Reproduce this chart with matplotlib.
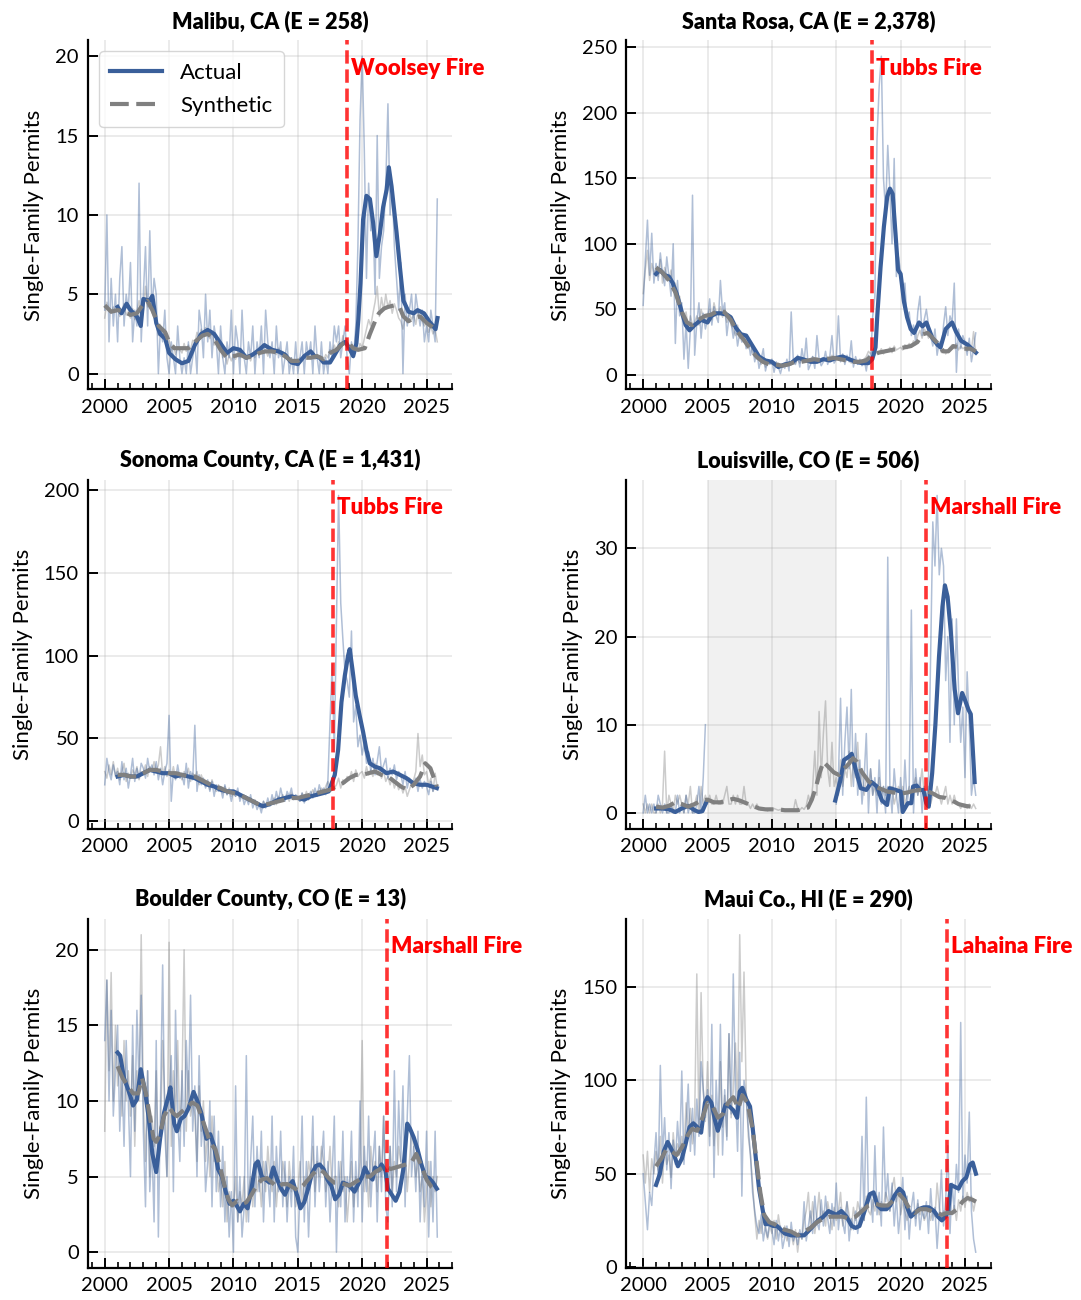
#!/usr/bin/env python3
"""Actual vs synthetic single-family permits around six wildfires (3x2 grid)."""

import numpy as np
import matplotlib

matplotlib.use("Agg")
import matplotlib.pyplot as plt
from matplotlib.ticker import MultipleLocator

plt.rcParams["font.family"] = ["Lato", "DejaVu Sans"]

# raw series: six readings per year starting Jan 2000
# smoothed series: (year, value) knots

malibu_actual_raw = [
    4, 10, 2, 6, 3, 5, 2, 6, 8, 3, 5, 4, 7, 2, 4, 3, 12, 2, 5, 8, 3, 9, 4, 6,
    5, 0, 3, 2, 4, 1, 0, 2, 1, 0, 3, 1, 0, 1, 0, 2, 0, 1, 2, 0, 4, 3, 1, 5,
    2, 4, 1, 3, 2, 0, 3, 1, 0, 2, 1, 4, 0, 3, 2, 0, 4, 1, 0, 2, 1, 3, 0, 2,
    1, 3, 0, 4, 2, 1, 2, 0, 3, 1, 2, 0, 1, 2, 0, 1, 0, 2, 0, 1, 2, 0, 2, 1,
    2, 0, 3, 1, 0, 2, 0, 1, 0, 2, 1, 3, 2, 3, 1, 2, 3, 1, 0, 2, 1, 3, 8, 16,
    20, 14, 6, 12, 9, 10, 5, 15, 6, 8, 9, 12, 17, 10, 12, 8, 6, 4, 7, 0, 5, 3, 4, 5,
    3, 5, 4, 3, 4, 2, 3, 2, 4, 3, 2, 11,
]
malibu_synth_raw = [
    3.5, 4.5, 4, 3.8, 4.2, 3.9, 4.3, 3.6, 4.0, 4.4, 3.7, 3.9, 3.5, 4.1, 3.4, 3.9, 4.6, 3.6,
    4.0, 5.5, 4.2, 4.8, 3.9, 3.5, 3.2, 2.4, 3.0, 2.2, 2.8, 1.9, 2.1, 1.4, 1.8, 1.2, 1.7, 1.5,
    1.3, 1.9, 1.4, 1.8, 1.5, 2.1, 1.9, 2.6, 2.2, 2.8, 2.4, 2.9, 2.6, 2.2, 2.7, 1.8, 2.3, 1.6,
    1.9, 1.0, 1.4, 0.6, 1.2, 0.8, 1.2, 0.9, 1.4, 1.0, 1.3, 1.1, 0.9, 1.2, 0.8, 1.3, 1.0, 1.4,
    1.2, 1.6, 1.3, 1.5, 1.1, 1.7, 1.3, 1.5, 1.2, 1.6, 1.1, 1.4, 1.0, 1.2, 0.7, 1.0, 0.6, 0.9,
    0.7, 1.0, 0.8, 1.2, 0.9, 1.1, 1.0, 1.3, 0.9, 1.2, 1.0, 1.1, 0.8, 1.2, 1.0, 1.5, 1.3, 1.8,
    1.4, 2.0, 1.6, 2.4, 1.8, 2.2, 1.5, 1.8, 1.3, 1.7, 1.4, 1.9, 1.6, 2.2, 2.8, 3.4, 3.0, 3.8,
    4.5, 5.5, 3.6, 4.8, 4.0, 5.0, 4.2, 4.6, 3.8, 4.4, 4.0, 3.5, 3.3, 2.8, 3.6, 3.2, 3.8, 3.4,
    3.7, 3.1, 3.9, 3.5, 3.3, 3.0, 3.2, 2.6, 3.0, 2.5, 2.8, 2.0,
]
malibu_actual_trend = [
    (2001.0, 4.2), (2001.3, 3.8), (2001.7, 4.4), (2002.0, 4.0), (2002.5, 3.6), (2002.8, 3.0),
    (2003.0, 4.7), (2003.5, 4.6), (2003.7, 4.9), (2004.0, 3.2), (2004.3, 2.5), (2004.7, 2.2),
    (2005.0, 1.3), (2005.5, 0.9), (2006.0, 0.65), (2006.5, 0.8), (2007.0, 1.8), (2007.5, 2.5),
    (2008.0, 2.75), (2008.5, 2.5), (2009.0, 1.9), (2009.5, 1.3), (2010.0, 1.6), (2010.5, 1.5),
    (2011.0, 1.0), (2011.5, 1.2), (2012.0, 1.5), (2012.4, 1.8), (2013.0, 1.5), (2013.5, 1.4),
    (2014.0, 1.2), (2014.5, 0.7), (2015.0, 0.6), (2015.5, 1.1), (2016.0, 1.4), (2016.3, 1.1),
    (2016.7, 1.0), (2017.0, 0.7), (2017.5, 0.7), (2017.8, 1.1), (2018.3, 1.8), (2018.7, 2.0),
    (2019.0, 1.6), (2019.3, 1.1), (2019.55, 1.9), (2019.7, 3.4), (2019.87, 5.7), (2020.07, 9.7),
    (2020.33, 11.2), (2020.6, 11.0), (2020.85, 9.5), (2021.1, 7.4), (2021.37, 8.8),
    (2021.63, 10.5), (2021.9, 11.6), (2022.07, 13.0), (2022.28, 11.8), (2022.67, 8.9),
    (2022.92, 6.8), (2023.2, 4.6), (2023.6, 3.9), (2024.0, 3.8), (2024.3, 4.0), (2024.8, 3.8),
    (2025.2, 3.3), (2025.7, 2.8), (2025.85, 3.5),
]
malibu_synth_trend = [
    (2000.0, 4.3), (2000.5, 3.9), (2001.0, 4.0), (2001.5, 3.9), (2002.0, 3.7), (2002.5, 3.8),
    (2003.0, 4.4), (2003.3, 4.6), (2003.7, 4.0), (2004.2, 3.0), (2004.7, 2.6), (2005.0, 2.0),
    (2005.4, 1.6), (2006.0, 1.6), (2006.5, 1.6), (2007.0, 2.0), (2007.6, 2.4), (2008.0, 2.5),
    (2008.5, 2.2), (2009.0, 1.5), (2009.5, 1.0), (2010.0, 1.1), (2010.5, 1.2), (2011.0, 1.0),
    (2011.5, 1.1), (2012.0, 1.3), (2012.5, 1.4), (2013.0, 1.4), (2013.5, 1.3), (2014.0, 1.1),
    (2014.5, 0.8), (2015.0, 0.8), (2015.5, 1.0), (2016.0, 1.0), (2016.5, 1.1), (2017.0, 0.9),
    (2017.5, 1.3), (2018.0, 1.5), (2018.5, 1.9), (2018.9, 2.0), (2019.3, 1.6), (2019.7, 1.5),
    (2020.2, 1.6), (2020.6, 2.5), (2021.0, 3.3), (2021.3, 3.8), (2021.7, 4.1), (2022.0, 4.2),
    (2022.5, 4.3), (2022.9, 4.2), (2023.2, 3.6), (2023.6, 3.3), (2024.0, 3.5), (2024.5, 3.6),
    (2025.0, 3.2), (2025.5, 2.9), (2025.85, 2.7),
]

santa_rosa_actual_raw = [
    53, 88, 118, 76, 108, 70, 85, 72, 93, 78, 68, 90, 75, 60, 100, 24, 72, 45,
    55, 12, 40, 5, 35, 137, 15, 40, 55, 28, 47, 35, 42, 58, 38, 52, 45, 40,
    72, 48, 55, 30, 44, 40, 28, 38, 22, 32, 25, 30, 20, 28, 15, 22, 10, 18,
    5, 12, 20, 3, 10, 8, 12, 2, 10, 6, 1, 8, 5, 12, 3, 48, 10, 8,
    15, 6, 20, 10, 28, 4, 8, 14, 5, 30, 12, 7, 10, 18, 8, 14, 30, 9,
    12, 45, 10, 16, 8, 15, 10, 26, 6, 14, 8, 12, 7, 12, 3, 15, 10, 45,
    60, 180, 220, 243, 150, 125, 175, 140, 100, 165, 75, 90, 78, 55, 70, 42, 48, 30,
    38, 25, 48, 60, 30, 42, 50, 38, 30, 22, 35, 15, 25, 18, 38, 52, 30, 45,
    40, 70, 2, 35, 20, 30, 25, 15, 28, 10, 20, 32,
]
santa_rosa_synth_raw = [
    62, 80, 95, 72, 85, 78, 80, 75, 88, 70, 82, 76, 72, 80, 65, 70, 55, 60,
    50, 42, 48, 35, 45, 38, 40, 45, 38, 50, 44, 42, 45, 50, 42, 55, 48, 46,
    52, 44, 50, 40, 45, 38, 35, 30, 38, 28, 32, 25, 24, 20, 26, 16, 18, 12,
    14, 8, 12, 6, 10, 9, 8, 10, 6, 9, 7, 8, 9, 7, 10, 8, 11, 9,
    12, 9, 13, 10, 12, 11, 10, 14, 11, 13, 12, 10, 13, 11, 14, 12, 15, 13,
    12, 14, 11, 13, 10, 12, 11, 9, 12, 10, 11, 9, 10, 12, 14, 18, 16, 19,
    15, 18, 17, 20, 16, 19, 18, 21, 17, 22, 19, 20, 21, 19, 23, 20, 24, 22,
    26, 23, 30, 34, 28, 35, 33, 28, 31, 26, 27, 22, 22, 17, 20, 16, 19, 21,
    23, 20, 24, 19, 22, 20, 21, 18, 22, 19, 33, 17,
]
santa_rosa_actual_trend = [
    (2001.0, 77), (2001.3, 80), (2001.7, 76), (2002.0, 75), (2002.3, 70), (2002.6, 62),
    (2003.0, 48), (2003.3, 38), (2003.6, 34), (2004.0, 38), (2004.5, 42), (2005.0, 40),
    (2005.3, 45), (2005.7, 47), (2006.0, 47), (2006.5, 46), (2006.8, 44), (2007.2, 36),
    (2007.6, 31), (2008.0, 30), (2008.5, 22), (2009.0, 14), (2009.5, 11), (2010.0, 10),
    (2010.5, 6), (2011.0, 8), (2011.5, 9), (2012.0, 13), (2012.4, 12), (2013.0, 10),
    (2013.5, 10), (2014.0, 12), (2014.5, 11), (2015.0, 13), (2015.5, 14), (2016.0, 12),
    (2016.5, 10), (2017.0, 9), (2017.5, 9), (2017.8, 12), (2018.05, 21), (2018.18, 44),
    (2018.44, 82), (2018.7, 113), (2018.96, 136), (2019.17, 142), (2019.38, 138),
    (2019.6, 108), (2019.8, 80), (2020.0, 77), (2020.26, 56), (2020.5, 44), (2020.78, 35),
    (2021.04, 32), (2021.43, 40), (2021.7, 37), (2022.0, 40), (2022.47, 28), (2022.86, 23),
    (2023.1, 21), (2023.5, 35), (2024.0, 40), (2024.3, 33), (2024.7, 26), (2025.2, 23),
    (2025.85, 17),
]
santa_rosa_synth_trend = [
    (2001.0, 82), (2001.5, 78), (2002.0, 72), (2002.5, 63), (2003.0, 48), (2003.4, 40),
    (2003.8, 38), (2004.3, 42), (2004.8, 45), (2005.3, 46), (2005.8, 49), (2006.3, 48),
    (2006.8, 42), (2007.3, 33), (2007.8, 27), (2008.3, 20), (2008.8, 14), (2009.3, 10),
    (2009.8, 8), (2010.3, 8), (2010.8, 7), (2011.3, 8), (2011.8, 10), (2012.3, 10),
    (2012.8, 11), (2013.3, 12), (2013.8, 11), (2014.3, 12), (2014.8, 13), (2015.3, 12),
    (2015.8, 11), (2016.3, 10), (2016.8, 10), (2017.3, 11), (2017.8, 15), (2018.3, 17),
    (2018.8, 18), (2019.3, 19), (2019.8, 20), (2020.3, 21), (2020.8, 22), (2021.3, 25),
    (2021.7, 31), (2022.1, 32), (2022.5, 28), (2022.9, 24), (2023.3, 18), (2023.7, 18),
    (2024.1, 22), (2024.5, 21), (2024.9, 20), (2025.4, 20), (2025.85, 18),
]

sonoma_actual_raw = [
    22, 38, 30, 25, 34, 28, 30, 22, 36, 25, 32, 20, 28, 38, 24, 32, 26, 35,
    32, 26, 38, 30, 34, 28, 36, 25, 32, 22, 30, 35, 64, 12, 30, 25, 34, 26,
    28, 22, 35, 20, 30, 25, 58, 18, 28, 22, 26, 20, 25, 18, 24, 15, 22, 18,
    20, 14, 22, 16, 18, 12, 18, 15, 20, 12, 16, 10, 14, 10, 16, 8, 12, 7,
    10, 5, 12, 8, 14, 9, 16, 10, 18, 12, 20, 14, 12, 18, 15, 20, 13, 16,
    14, 12, 17, 11, 16, 13, 18, 14, 20, 15, 22, 17, 20, 16, 24, 60, 95, 42,
    120, 197, 132, 110, 90, 85, 75, 115, 60, 70, 45, 52, 40, 48, 35, 42, 30, 38,
    28, 36, 45, 30, 34, 38, 26, 32, 28, 34, 25, 30, 28, 22, 30, 20, 26, 24,
    22, 26, 18, 25, 20, 24, 21, 16, 24, 18, 22, 19,
]
sonoma_synth_raw = [
    30, 26, 34, 28, 36, 27, 32, 25, 30, 35, 24, 29, 26, 31, 28, 33, 25, 30,
    29, 34, 27, 33, 30, 36, 30, 34, 45, 28, 33, 27, 31, 27, 33, 26, 30, 28,
    25, 30, 27, 32, 24, 29, 26, 30, 22, 28, 24, 21, 23, 19, 25, 21, 18, 22,
    19, 17, 21, 16, 20, 15, 17, 15, 18, 14, 16, 13, 15, 12, 14, 11, 13, 10,
    10, 8, 12, 9, 11, 10, 12, 14, 10, 15, 12, 16, 13, 16, 12, 17, 14, 15,
    15, 12, 17, 14, 18, 13, 16, 19, 15, 18, 17, 20, 18, 21, 24, 19, 22, 20,
    22, 26, 20, 25, 23, 27, 25, 30, 24, 31, 27, 29, 30, 26, 33, 28, 31, 27,
    35, 28, 32, 26, 30, 24, 27, 22, 26, 20, 24, 19, 22, 17, 21, 15, 19, 23,
    25, 30, 53, 33, 40, 28, 30, 22, 26, 18, 29, 20,
]
sonoma_actual_trend = [
    (2001.0, 27), (2001.5, 28), (2002.0, 27), (2002.5, 27), (2003.0, 29), (2003.5, 31),
    (2004.0, 30), (2004.5, 29), (2005.0, 29), (2005.5, 27), (2006.0, 28), (2006.5, 27),
    (2007.0, 26), (2007.5, 24), (2008.0, 22), (2008.5, 21), (2009.0, 19), (2009.5, 18),
    (2010.0, 18), (2010.5, 16), (2011.0, 14), (2011.5, 12), (2012.0, 10), (2012.3, 9),
    (2012.7, 10), (2013.0, 11), (2013.5, 13), (2014.0, 14), (2014.5, 15), (2015.0, 14),
    (2015.5, 13), (2016.0, 15), (2016.5, 16), (2017.0, 17), (2017.4, 18), (2017.87, 28),
    (2018.13, 43), (2018.39, 72), (2018.65, 88), (2018.9, 100), (2019.03, 104), (2019.24, 92),
    (2019.5, 76), (2019.8, 64), (2020.07, 54), (2020.33, 43), (2020.59, 35), (2020.98, 33),
    (2021.37, 32), (2021.89, 29), (2022.4, 30), (2022.93, 28), (2023.44, 26), (2023.96, 23),
    (2024.48, 22), (2025.0, 22), (2025.8, 20),
]
sonoma_synth_trend = [
    (2001.0, 28), (2001.5, 28), (2002.0, 27), (2002.5, 27), (2003.0, 29), (2003.5, 31),
    (2004.0, 31), (2004.5, 30), (2005.0, 29), (2005.5, 29), (2006.0, 28), (2006.5, 27),
    (2007.0, 27), (2007.5, 25), (2008.0, 23), (2008.5, 21), (2009.0, 20), (2009.5, 18),
    (2010.0, 17), (2010.5, 16), (2011.0, 14), (2011.5, 12), (2012.0, 10), (2012.5, 10),
    (2013.0, 11), (2013.5, 12), (2014.0, 13), (2014.5, 14), (2015.0, 14), (2015.5, 15),
    (2016.0, 16), (2016.5, 17), (2017.0, 18), (2017.5, 19), (2018.0, 21), (2018.5, 23),
    (2019.0, 26), (2019.5, 28), (2020.0, 28), (2020.5, 29), (2021.0, 30), (2021.5, 28),
    (2022.0, 27), (2022.5, 24), (2023.0, 21), (2023.5, 19), (2024.0, 22), (2024.5, 27),
    (2024.9, 35), (2025.3, 32), (2025.8, 21),
]

louisville_actual_raw = (
    [0, 2, 0, 1, 0, 1, 0, 2, 1, 0, 1, 0, 0, 1, 0, 0, 2, 0,
     1, 0, 2, 0, 1, 0, 0, 1, 3, 0, 4, 10]
    + [np.nan] * 60
    + [1, 4, 13, 2, 8, 12, 5, 14, 3, 9, 2, 6, 1, 4, 9, 0, 5, 2,
       4, 0, 6, 1, 3, 0, 29, 3, 0, 5, 2, 0, 4, 0, 6, 1, 3, 23,
       0, 5, 2, 4, 0, 3, 1, 4, 18, 33, 28, 36, 27, 30, 28, 15, 20, 8,
       22, 10, 22, 14, 8, 12, 4, 16, 10, 2, 4, 2]
)
louisville_synth_raw = [
    1, 0, 1, 0, 1, 0, 0, 1, 0, 1, 7, 0, 2, 1, 0, 2, 1, 2,
    1, 0, 2, 1, 3, 0, 1, 2, 0, 3, 1, 2, 1, 2, 1, 1, 2, 1,
    1, 1, 2, 3, 1, 1, 2, 1, 2, 1, 1, 3, 1, 1, 0.5, 1, 0.5, 1,
    0.5, 0.3, 0.5, 0.4, 0.2, 0.5, 0.3, 0.5, 0.4, 0.3, 0.4, 0.2, 0.3, 0.2, 0.4, 0.3, 0.2, 1.5,
    0.5, 0.3, 0.6, 0.4, 0.8, 2, 1, 3, 7, 2, 11.5, 4, 9, 12.7, 5, 3, 8, 3,
    4, 2, 6, 3, 5, 4, 7, 3, 6, 4, 8, 3, 5, 2, 4, 3, 5, 2,
    3, 2, 4, 2, 3, 2, 3, 2, 3, 1, 2, 3, 2, 3, 1, 2, 3, 2,
    3, 4, 2, 3, 5, 2, 2, 3, 1, 2, 2, 3, 2, 1, 2, 3, 1, 2,
    1, 2, 1, 1, 0.5, 1, 1, 0.5, 1, 0.5, 1, 0.5,
]
louisville_actual_trend = [
    (2001.0, 0.5), (2001.5, 0.5), (2002.0, 0.4), (2002.5, 0.1), (2003.0, 0.5), (2003.5, 0.8),
    (2004.0, 0.3), (2004.3, 0.1), (2004.6, 0.2), (2004.9, 1.2), (2010.0, np.nan),
    (2014.92, 1.4), (2015.32, 3.7), (2015.6, 6.0), (2016.0, 6.4), (2016.2, 6.7), (2016.53, 4.8),
    (2016.9, 2.8), (2017.34, 2.6), (2017.74, 3.5), (2018.15, 3.0), (2018.55, 1.4),
    (2018.95, 0.9), (2019.14, 2.8), (2019.62, 2.6), (2020.03, 2.4), (2020.16, 0.1),
    (2020.56, 1.1), (2020.83, 1.1), (2020.97, 3.0), (2021.24, 3.1), (2021.5, 2.6),
    (2021.77, 2.6), (2021.99, 1.1), (2022.18, 0.7), (2022.45, 4.5), (2022.7, 10.0),
    (2022.98, 17.7), (2023.25, 23.4), (2023.44, 25.8), (2023.65, 24.5), (2023.9, 20.5),
    (2024.2, 14.0), (2024.46, 11.3), (2024.78, 13.6), (2025.0, 12.8), (2025.27, 11.7),
    (2025.45, 11.2), (2025.75, 3.5),
]
louisville_synth_trend = [
    (2001.0, 0.7), (2001.5, 0.6), (2002.0, 0.8), (2002.5, 1.2), (2003.0, 1.0), (2003.5, 0.7),
    (2004.0, 1.0), (2004.5, 1.4), (2005.0, 1.5), (2005.5, 1.2), (2006.0, 1.2), (2006.5, 1.4),
    (2007.0, 1.6), (2007.5, 1.4), (2008.0, 1.1), (2008.5, 0.8), (2009.0, 0.5), (2009.5, 0.4),
    (2010.0, 0.4), (2010.5, 0.4), (2011.0, 0.3), (2011.5, 0.3), (2012.0, 0.3), (2012.5, 0.5),
    (2012.8, 0.6), (2013.1, 1.5), (2013.4, 2.8), (2013.7, 4.5), (2014.0, 5.8), (2014.4, 5.2),
    (2014.8, 4.6), (2015.2, 4.3), (2015.6, 5.0), (2016.0, 5.6), (2016.3, 6.2), (2016.6, 5.8),
    (2017.0, 4.6), (2017.5, 3.6), (2018.0, 3.0), (2018.5, 2.7), (2019.0, 2.4), (2019.5, 2.3),
    (2020.0, 2.2), (2020.5, 2.3), (2021.0, 2.5), (2021.5, 2.6), (2022.0, 2.5), (2022.5, 2.2),
    (2023.0, 1.8), (2023.5, 1.7), (2024.0, 1.4), (2024.5, 1.0), (2025.0, 0.8), (2025.5, 0.7),
]

boulder_actual_raw = [
    14, 18, 10, 16, 9, 12, 15, 8, 12, 7, 14, 10, 5, 15, 8, 16, 11, 17,
    8, 3, 12, 4, 7, 2, 14, 1, 10, 19, 8, 5, 10, 13, 4, 16, 9, 6,
    12, 7, 14, 10, 17, 8, 11, 5, 13, 7, 9, 4, 6, 10, 3, 9, 4, 8,
    3, 7, 2, 5, 1, 4, 0, 11, 2, 5, 1, 3, 13, 2, 6, 9, 3, 7,
    4, 8, 2, 6, 5, 3, 9, 2, 7, 4, 8, 3, 6, 2, 5, 3, 7, 1,
    0, 4, 9, 2, 6, 1, 5, 9, 3, 7, 4, 6, 8, 3, 6, 2, 5, 9,
    0, 6, 3, 8, 2, 5, 4, 8, 2, 6, 3, 10, 2, 7, 4, 9, 3, 6,
    8, 2, 7, 4, 9, 3, 2, 7, 3, 12, 4, 10, 6, 11, 3, 9, 13, 5,
    7, 4, 8, 2, 6, 3, 8, 1, 6, 2, 8, 1,
]
boulder_synth_raw = [
    8, 18, 12, 18.5, 10, 15, 11, 13, 9, 14, 10, 12, 9, 13, 7, 12, 10, 21,
    10, 6, 12, 5, 9, 7, 12, 6, 8, 14, 10, 5, 20.5, 7, 12, 9, 14, 8,
    11, 20, 8, 12, 9, 10, 9, 6, 11, 8, 10, 6, 8, 5, 9, 6, 7, 4,
    5, 3, 6, 2, 4, 3, 3, 5, 2, 4, 3, 5, 2, 4, 5, 3, 6, 4,
    5, 3, 6, 4, 7, 5, 4, 6, 3, 5, 4, 6, 5, 3, 6, 4, 5, 3,
    4, 6, 3, 5, 4, 6, 5, 7, 4, 6, 5, 7, 6, 4, 5, 7, 4, 5,
    5, 3, 6, 4, 5, 2, 4, 6, 3, 5, 4, 6, 14, 4, 6, 3, 7, 5,
    6, 4, 7, 5, 9, 4, 5, 7, 4, 6, 5, 7, 6, 5, 7, 4, 6, 8,
    7, 5, 6, 4, 5, 2, 4, 6, 3, 5, 4, 5,
]
boulder_actual_trend = [
    (2001.0, 13.2), (2001.2, 13.0), (2001.5, 11.5), (2001.8, 10.8), (2002.0, 10.3), (2002.2, 9.7),
    (2002.5, 10.1), (2002.8, 12.1), (2003.1, 10.8), (2003.4, 9.0), (2003.7, 6.5), (2004.0, 5.3),
    (2004.3, 7.5), (2004.6, 9.2), (2005.0, 10.5), (2005.1, 10.9), (2005.4, 8.5), (2005.6, 8.0),
    (2005.9, 8.8), (2006.2, 9.0), (2006.5, 9.5), (2006.9, 10.6), (2007.2, 10.0), (2007.5, 9.2),
    (2007.9, 7.5), (2008.2, 7.8), (2008.5, 7.0), (2008.8, 5.5), (2009.1, 5.0), (2009.4, 4.0),
    (2009.7, 3.2), (2010.0, 3.4), (2010.3, 3.0), (2010.5, 2.7), (2010.8, 3.2), (2011.1, 2.9),
    (2011.4, 4.2), (2011.7, 5.8), (2011.9, 6.0), (2012.2, 5.0), (2012.5, 4.8), (2012.8, 4.6),
    (2013.1, 5.6), (2013.4, 4.8), (2013.7, 4.2), (2014.0, 3.8), (2014.3, 4.4), (2014.6, 4.7),
    (2015.0, 3.6), (2015.2, 2.9), (2015.5, 3.3), (2015.8, 4.2), (2016.1, 5.2), (2016.4, 5.7),
    (2016.7, 5.8), (2017.0, 5.5), (2017.3, 4.8), (2017.6, 4.4), (2017.9, 3.5), (2018.2, 3.8),
    (2018.5, 4.6), (2018.8, 4.5), (2019.1, 4.3), (2019.4, 4.0), (2019.7, 4.5), (2020.0, 5.0),
    (2020.2, 5.6), (2020.5, 5.1), (2020.8, 4.8), (2021.0, 5.6), (2021.3, 5.4), (2021.5, 5.8),
    (2021.8, 5.4), (2022.0, 4.2), (2022.3, 3.8), (2022.6, 3.4), (2022.9, 4.0), (2023.2, 5.5),
    (2023.5, 8.5), (2023.7, 8.2), (2024.0, 7.6), (2024.3, 6.8), (2024.6, 5.8), (2024.9, 5.0),
    (2025.2, 4.9), (2025.5, 4.6), (2025.8, 4.2),
]
boulder_synth_trend = [
    (2001.0, 12.3), (2001.4, 11.5), (2001.8, 11.0), (2002.2, 10.5), (2002.6, 10.5), (2002.9, 11.5),
    (2003.2, 10.5), (2003.5, 9.0), (2003.8, 7.5), (2004.0, 7.3), (2004.3, 7.8), (2004.6, 9.0),
    (2005.0, 9.6), (2005.3, 9.2), (2005.6, 9.0), (2006.0, 9.3), (2006.4, 9.6), (2006.8, 9.9),
    (2007.2, 9.7), (2007.5, 9.0), (2007.9, 8.0), (2008.2, 7.2), (2008.6, 6.8), (2009.0, 5.5),
    (2009.3, 4.4), (2009.6, 3.5), (2009.9, 3.1), (2010.3, 3.4), (2010.7, 3.2), (2011.0, 3.3),
    (2011.4, 3.8), (2011.8, 4.4), (2012.2, 4.8), (2012.6, 4.9), (2013.0, 4.6), (2013.4, 4.3),
    (2013.8, 4.5), (2014.2, 4.5), (2014.6, 4.3), (2015.0, 4.1), (2015.4, 4.4), (2015.8, 4.8),
    (2016.2, 5.2), (2016.6, 5.5), (2017.0, 5.3), (2017.4, 4.9), (2017.8, 4.6), (2018.2, 4.6),
    (2018.6, 4.5), (2019.0, 4.4), (2019.4, 4.6), (2019.8, 4.8), (2020.2, 5.0), (2020.6, 5.0),
    (2021.0, 5.3), (2021.4, 5.5), (2021.8, 5.7), (2022.2, 5.5), (2022.6, 5.6), (2023.0, 5.7),
    (2023.4, 5.8), (2023.8, 5.9), (2024.2, 6.5), (2024.6, 5.7), (2025.0, 4.8), (2025.4, 4.3),
    (2025.8, 4.0),
]

maui_actual_raw = [
    50, 35, 20, 40, 33, 55, 72, 48, 108, 60, 80, 52, 72, 42, 68, 55, 78, 60,
    105, 55, 75, 98, 62, 85, 60, 90, 70, 110, 95, 80, 95, 65, 130, 48, 100, 75,
    130, 60, 95, 68, 125, 82, 157, 95, 62, 115, 38, 100, 90, 75, 60, 40, 30, 22,
    18, 28, 14, 22, 16, 25, 20, 12, 25, 14, 22, 10, 16, 22, 11, 24, 14, 18,
    12, 20, 15, 35, 14, 22, 30, 18, 38, 24, 20, 36, 22, 38, 26, 18, 34, 22,
    45, 20, 32, 24, 18, 35, 14, 26, 20, 30, 18, 28, 70, 25, 91, 35, 40, 24,
    65, 28, 40, 22, 75, 35, 50, 30, 45, 22, 38, 18, 30, 48, 20, 38, 15, 32,
    40, 22, 36, 20, 30, 26, 35, 18, 42, 25, 32, 10, 28, 52, 22, 36, 65, 18,
    45, 30, 55, 40, 131, 35, 60, 45, 83, 30, 15, 8,
]
maui_synth_raw = [
    60, 45, 62, 40, 58, 50, 62, 52, 70, 45, 65, 55, 60, 48, 72, 58, 66, 62,
    70, 60, 88, 72, 85, 66, 80, 157, 72, 147, 95, 78, 110, 70, 92, 65, 85, 60,
    110, 75, 92, 70, 125, 80, 95, 120, 85, 178, 110, 158, 95, 70, 60, 45, 28, 15,
    25, 18, 30, 20, 15, 22, 18, 25, 15, 28, 20, 16, 22, 14, 20, 18, 12, 20,
    8, 18, 15, 25, 30, 40, 22, 35, 18, 28, 40, 25, 30, 22, 35, 28, 20, 32,
    25, 30, 40, 22, 28, 35, 28, 20, 32, 25, 35, 30, 32, 25, 38, 30, 28, 36,
    30, 38, 28, 35, 32, 40, 36, 30, 42, 48, 35, 40, 28, 35, 30, 25, 32, 28,
    30, 26, 34, 28, 32, 25, 28, 32, 25, 30, 27, 45, 32, 26, 30, 28, 35, 30,
    28, 33, 25, 36, 30, 38, 32, 40, 35, 38, 30, 36,
]
maui_actual_trend = [
    (2001.0, 44), (2001.3, 50), (2001.6, 62), (2001.9, 67), (2002.2, 63), (2002.4, 60),
    (2002.7, 54), (2003.0, 58), (2003.3, 66), (2003.6, 75), (2003.9, 77), (2004.2, 75),
    (2004.5, 72), (2004.8, 88), (2005.0, 91), (2005.3, 88), (2005.6, 78), (2005.8, 73),
    (2006.1, 80), (2006.4, 87), (2006.7, 86), (2007.0, 84), (2007.3, 80), (2007.5, 94),
    (2007.7, 96), (2008.0, 90), (2008.3, 86), (2008.5, 75), (2008.8, 55), (2009.0, 42),
    (2009.3, 30), (2009.5, 23), (2009.8, 23), (2010.1, 22), (2010.4, 22), (2010.7, 20),
    (2011.0, 18), (2011.5, 17), (2012.0, 17), (2012.5, 17), (2012.8, 19), (2013.2, 22),
    (2013.6, 25), (2014.0, 27), (2014.4, 30), (2014.7, 29), (2015.0, 28), (2015.4, 30),
    (2015.8, 27), (2016.2, 22), (2016.5, 21), (2016.8, 22), (2017.2, 30), (2017.6, 39),
    (2017.9, 40), (2018.2, 33), (2018.5, 31), (2018.9, 31), (2019.2, 33), (2019.5, 38),
    (2019.9, 42), (2020.2, 40), (2020.5, 32), (2020.8, 27), (2021.1, 29), (2021.4, 31),
    (2021.8, 32), (2022.2, 32), (2022.6, 30), (2022.9, 27), (2023.2, 25), (2023.5, 27),
    (2023.7, 30), (2023.9, 44), (2024.2, 43), (2024.5, 42), (2024.8, 46), (2025.1, 48),
    (2025.4, 55), (2025.6, 56), (2025.85, 50),
]
maui_synth_trend = [
    (2001.0, 54), (2001.4, 58), (2001.8, 63), (2002.2, 62), (2002.6, 60), (2003.0, 64),
    (2003.4, 70), (2003.8, 74), (2004.2, 73), (2004.6, 80), (2005.0, 88), (2005.4, 86),
    (2005.8, 80), (2006.2, 82), (2006.6, 88), (2007.0, 91), (2007.4, 85), (2007.7, 92),
    (2008.1, 88), (2008.5, 74), (2008.8, 57), (2009.1, 40), (2009.4, 28), (2009.8, 24),
    (2010.2, 23), (2010.6, 21), (2011.0, 20), (2011.5, 19), (2012.0, 17), (2012.5, 19),
    (2013.0, 21), (2013.5, 24), (2014.0, 26), (2014.5, 27), (2015.0, 27), (2015.5, 27),
    (2016.0, 26), (2016.5, 27), (2017.0, 30), (2017.5, 33), (2018.0, 34), (2018.5, 33),
    (2019.0, 33), (2019.5, 36), (2019.9, 39), (2020.3, 36), (2020.7, 31), (2021.1, 29),
    (2021.5, 31), (2022.0, 31), (2022.4, 30), (2022.8, 29), (2023.2, 28), (2023.6, 29),
    (2024.0, 29), (2024.4, 31), (2024.8, 35), (2025.2, 37), (2025.6, 36), (2025.85, 35),
]

titles = [
    "Malibu, CA (E = 258)", "Santa Rosa, CA (E = 2,378)",
    "Sonoma County, CA (E = 1,431)", "Louisville, CO (E = 506)",
    "Boulder County, CO (E = 13)", "Maui Co., HI (E = 290)",
]
fire_years = [2018.8, 2017.75, 2017.72, 2021.95, 2021.9, 2023.58]
fire_labels = ["Woolsey Fire", "Tubbs Fire", "Tubbs Fire", "Marshall Fire",
               "Marshall Fire", "Lahaina Fire"]
y_tick_steps = [5, 50, 50, 10, 5, 50]
actual_raw = [malibu_actual_raw, santa_rosa_actual_raw, sonoma_actual_raw,
              louisville_actual_raw, boulder_actual_raw, maui_actual_raw]
synth_raw = [malibu_synth_raw, santa_rosa_synth_raw, sonoma_synth_raw,
             louisville_synth_raw, boulder_synth_raw, maui_synth_raw]
actual_trend = [malibu_actual_trend, santa_rosa_actual_trend, sonoma_actual_trend,
                louisville_actual_trend, boulder_actual_trend, maui_actual_trend]
synth_trend = [malibu_synth_trend, santa_rosa_synth_trend, sonoma_synth_trend,
               louisville_synth_trend, boulder_synth_trend, maui_synth_trend]
missing_span = {3: (2005, 2015)}  # Louisville: no reported actuals

BLUE = "#3a5f9a"
GRAY = "#808080"
RED = "#ff0000"
FS = 16


def raw_years(vals):
    return 2000 + np.arange(len(vals)) / 6.0


fig, axes = plt.subplots(3, 2, figsize=(10.81, 13.0), dpi=100)
fig.subplots_adjust(left=0.0814, right=0.9165, top=0.969, bottom=0.0246,
                    wspace=0.478, hspace=0.258)

for i, ax in enumerate(axes.flat):
    if i in missing_span:
        a, b = missing_span[i]
        ax.axvspan(a, b, color="lightgray", alpha=0.3, lw=0, zorder=0)

    ar = np.asarray(actual_raw[i], float)
    sr = np.asarray(synth_raw[i], float)
    ax.plot(raw_years(sr), sr, color=GRAY, lw=1.1, alpha=0.4, zorder=2)
    ax.plot(raw_years(ar), ar, color=BLUE, lw=1.1, alpha=0.4, zorder=2)

    sx, sy = zip(*synth_trend[i])
    ax.plot(sx, sy, color=GRAY, lw=3.0, dashes=(4.5, 1.8), label="Synthetic", zorder=4)
    axx, ayy = zip(*actual_trend[i])
    ax.plot(axx, ayy, color=BLUE, lw=3.0, label="Actual", zorder=3)

    ax.axvline(fire_years[i], color=RED, lw=2.6, ls="--", alpha=0.8, zorder=5)
    ax.text(fire_years[i] + 0.3, 0.92, fire_labels[i], transform=ax.get_xaxis_transform(),
            color=RED, fontsize=FS, fontweight="heavy", ha="left", va="center")

    ax.set_xlim(1998.7, 2027.0)
    ax.set_title(titles[i], fontsize=15.5, fontweight="heavy", pad=9)
    ax.set_ylabel("Single-Family Permits", fontsize=FS, labelpad=8)
    ax.xaxis.set_major_locator(MultipleLocator(5))
    ax.xaxis.set_minor_locator(MultipleLocator(1))
    ax.yaxis.set_major_locator(MultipleLocator(y_tick_steps[i]))
    ax.tick_params(axis="both", which="major", direction="in", length=7, width=1.4,
                   labelsize=14.5, pad=6.5)
    ax.tick_params(axis="x", which="minor", direction="in", length=4, width=1.2)
    ax.grid(True, which="major", color="#b0b0b0", alpha=0.3, lw=1.2)
    for side in ("top", "right"):
        ax.spines[side].set_visible(False)
    for side in ("left", "bottom"):
        ax.spines[side].set_linewidth(1.6)

    if i == 0:
        h, l = ax.get_legend_handles_labels()
        order = [l.index("Actual"), l.index("Synthetic")]
        ax.legend([h[k] for k in order], [l[k] for k in order], loc="upper left",
                  fontsize=FS, handlelength=2.35, handletextpad=0.8, framealpha=0.8,
                  edgecolor="#cccccc", borderpad=0.5, labelspacing=0.6)

fig.savefig("out.png", dpi=100)
